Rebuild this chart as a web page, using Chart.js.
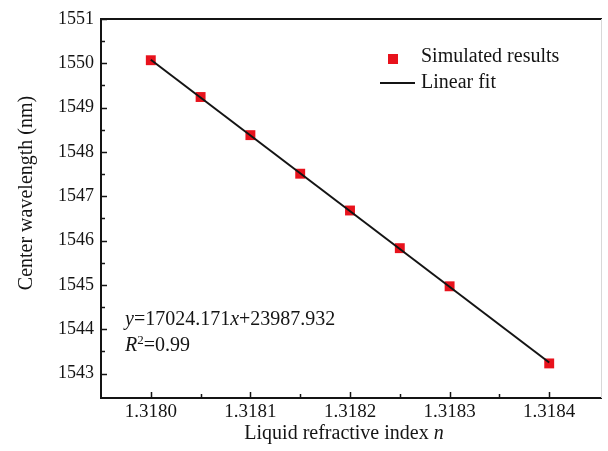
<!DOCTYPE html>
<html>
<head>
<meta charset="utf-8">
<script src="https://cdn.jsdelivr.net/npm/chart.js@4.4.0/dist/chart.umd.min.js"></script>
<style>
    html, body { margin: 0; padding: 0; background: #fff; }
    #wrap { width: 608px; height: 451px; }
</style>
</head>
<body>
<div id="wrap"><canvas id="chart" width="608" height="451"></canvas></div>
<script>

// simulated points
const refractiveIndex = [1.3180, 1.31805, 1.3181, 1.31815, 1.3182, 1.31825, 1.3183, 1.3184];
const centerWavelength = [1550.07, 1549.24, 1548.38, 1547.51, 1546.68, 1545.83, 1544.97, 1543.23];

// linear fit, end points
const fitX = [1.3180, 1.3184];
const fitY = [1550.08, 1543.25];

const xTicks = [1.3180, 1.3181, 1.3182, 1.3183, 1.3184];
const xMinorTicks = [1.31805, 1.31815, 1.31825, 1.31835];
const yTicks = [1543, 1544, 1545, 1546, 1547, 1548, 1549, 1550, 1551];
const yMinorTicks = [1543.5, 1544.5, 1545.5, 1546.5, 1547.5, 1548.5, 1549.5, 1550.5];

const serif = '"Liberation Serif", "Times New Roman", serif';
const red = '#e8121c';
const ink = '#141414';

window.onload = function () {

    const canvas = document.getElementById('chart');

    function drawRuns(ctx, runs, x, y, align) {
        // runs: [text, italic, size, dy]
        let total = 0;
        runs.forEach((r) => {
            ctx.font = (r[1] ? 'italic ' : '') + r[2] + 'px ' + serif;
            total += ctx.measureText(r[0]).width;
        });
        let cx = align === 'center' ? x - total / 2 : x;
        runs.forEach((r) => {
            ctx.font = (r[1] ? 'italic ' : '') + r[2] + 'px ' + serif;
            ctx.fillText(r[0], cx, y + (r[3] || 0));
            cx += ctx.measureText(r[0]).width;
        });
    }

    const decorations = {
        id: 'decorations',
        afterDraw(chart) {
            const ctx = chart.ctx;
            const a = chart.chartArea;
            const sx = chart.scales.x;
            const sy = chart.scales.y;

            ctx.save();
            ctx.strokeStyle = ink;
            ctx.lineWidth = 1.5;

            // inward ticks
            ctx.beginPath();
            xTicks.forEach((v) => {
                const px = Math.round(sx.getPixelForValue(v)) + 0.5;
                ctx.moveTo(px, a.bottom); ctx.lineTo(px, a.bottom - 6);
            });
            xMinorTicks.forEach((v) => {
                const px = Math.round(sx.getPixelForValue(v)) + 0.5;
                ctx.moveTo(px, a.bottom); ctx.lineTo(px, a.bottom - 4);
            });
            yTicks.forEach((v) => {
                const py = Math.round(sy.getPixelForValue(v)) + 0.5;
                ctx.moveTo(a.left, py); ctx.lineTo(a.left + 6, py);
            });
            yMinorTicks.forEach((v) => {
                const py = Math.round(sy.getPixelForValue(v)) + 0.5;
                ctx.moveTo(a.left, py); ctx.lineTo(a.left + 4, py);
            });
            ctx.stroke();

            // frame
            ctx.lineWidth = 2;
            ctx.beginPath();
            ctx.moveTo(a.right + 1, a.top);
            ctx.lineTo(a.left, a.top);
            ctx.lineTo(a.left, a.bottom);
            ctx.lineTo(a.right + 1, a.bottom);
            ctx.stroke();
            ctx.strokeStyle = '#d8d8d8';
            ctx.lineWidth = 1;
            ctx.beginPath();
            ctx.moveTo(a.right + 0.5, a.top);
            ctx.lineTo(a.right + 0.5, a.bottom);
            ctx.stroke();

            // axis titles
            ctx.fillStyle = ink;
            ctx.textBaseline = 'middle';
            ctx.textAlign = 'left';
            drawRuns(ctx, [['Liquid refractive index ', false, 20], ['n', true, 20]], a.left + 243, 434, 'center');

            ctx.save();
            ctx.translate(27, a.top + 174);
            ctx.rotate(-Math.PI / 2);
            drawRuns(ctx, [['Center wavelength (nm)', false, 20]], 0, 0, 'center');
            ctx.restore();

            // fit equation
            ctx.textBaseline = 'alphabetic';
            drawRuns(ctx, [['y', true, 20], ['=17024.171', false, 20], ['x', true, 20], ['+23987.932', false, 20]], a.left + 24, 325, 'left');
            drawRuns(ctx, [['R', true, 20], ['2', false, 13, -7], ['=0.99', false, 20]], a.left + 24, 351, 'left');

            // legend
            ctx.fillStyle = red;
            ctx.fillRect(388, 54, 10, 10);
            ctx.strokeStyle = ink;
            ctx.lineWidth = 2;
            ctx.beginPath();
            ctx.moveTo(380, 83);
            ctx.lineTo(415, 83);
            ctx.stroke();
            ctx.fillStyle = ink;
            ctx.textBaseline = 'middle';
            drawRuns(ctx, [['Simulated results', false, 20]], 421, 57, 'left');
            drawRuns(ctx, [['Linear fit', false, 20]], 421, 83, 'left');

            ctx.restore();
        }
    };

    new Chart(canvas, {
        type: 'scatter',
        data: {
            datasets: [{
                label: 'Simulated results',
                data: refractiveIndex.map((n, i) => ({ x: n, y: centerWavelength[i] })),
                pointStyle: 'rect',
                pointRadius: 7,
                pointHoverRadius: 7,
                backgroundColor: red,
                borderWidth: 0,
                order: 2
            }, {
                type: 'line',
                label: 'Linear fit',
                data: fitX.map((n, i) => ({ x: n, y: fitY[i] })),
                borderColor: ink,
                borderWidth: 2,
                pointRadius: 0,
                fill: false,
                order: 1
            }]
        },
        options: {
            responsive: false,
            animation: false,
            events: [],
            layout: { padding: { top: 19, right: 2, left: 0, bottom: 0 } },
            plugins: {
                legend: { display: false },
                tooltip: { enabled: false }
            },
            scales: {
                x: {
                    type: 'linear',
                    min: 1.31795,
                    max: 1.318452,
                    grid: { display: false, drawTicks: false },
                    border: { display: false },
                    afterBuildTicks: (s) => { s.ticks = xTicks.map((v) => ({ value: v })); },
                    afterFit: (s) => { s.height = 53; },
                    ticks: {
                        padding: 3,
                        color: ink,
                        font: { family: serif, size: 19 },
                        callback: (v) => Number(v).toFixed(4)
                    }
                },
                y: {
                    min: 1542.45,
                    max: 1551,
                    grid: { display: false, drawTicks: false },
                    border: { display: false },
                    afterBuildTicks: (s) => { s.ticks = yTicks.map((v) => ({ value: v })); },
                    afterFit: (s) => { s.width = 101; },
                    ticks: {
                        padding: 7,
                        color: ink,
                        font: { family: serif, size: 18 },
                        callback: (v) => String(v)
                    }
                }
            }
        },
        plugins: [decorations]
    });

}
</script>
</body>
</html>
